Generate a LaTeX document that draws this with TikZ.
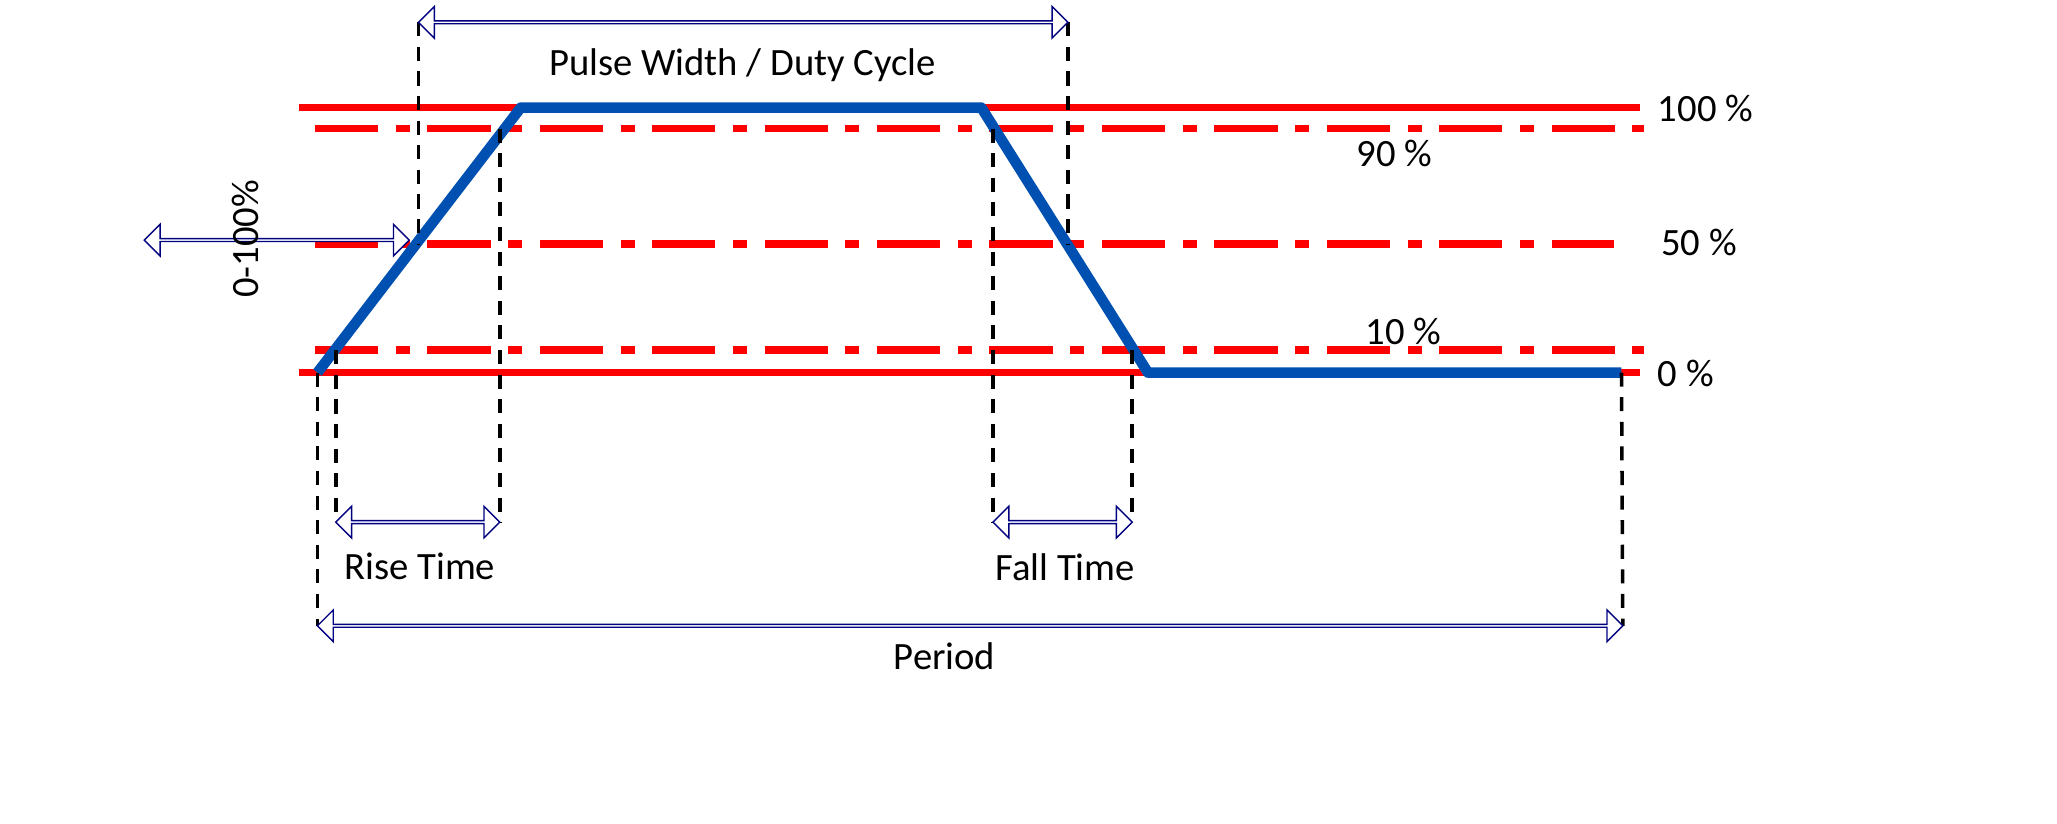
\documentclass[tikz,border=0pt]{standalone}
\usepackage{fontspec}
\setmainfont{Carlito}
\usetikzlibrary{calc}
\usetikzlibrary{shapes.arrows}
\tikzset{
level/.style={red,line width=2.2pt},
pct/.style={red,line width=2.2pt,dash pattern=on 18pt off 5pt on 4pt off 5pt},
guide/.style={black,line width=1pt,dash pattern=on 4pt off 3pt},
wave/.style={draw=blue!55!cyan!70!black,line width=3pt,line join=round},
span/.style={double arrow,draw=blue!50!black,fill=white,thin,inner sep=0pt,
  minimum width=9pt,double arrow head extend=2pt,double arrow head indent=0pt},
lbl/.style={font=\fontsize{11}{13}\selectfont}
}
\newcommand\spanarrow[2]{%
  \path let \p1=($(#2)-(#1)$), \n1={veclen(\x1,\y1)}, \n2={atan2(\y1,\x1)} in
    node[span,minimum height=\n1,shape border rotate=\n2] at ($(#1)!0.5!(#2)$) {};}
\begin{document}
\begin{tikzpicture}[x=0.01312cm,y=-0.01312cm]
\useasboundingbox (0,0) rectangle (1568,628);
% levels
\coordinate (top l) at (228,82);   \coordinate (top r) at (1250,82);
\coordinate (bot l) at (228,284);  \coordinate (bot r) at (1250,284);
\coordinate (n90 l) at (240,98);   \coordinate (n90 r) at (1253,98);
\coordinate (n50 l) at (240,186);  \coordinate (n50 r) at (1230,186);
\coordinate (n10 l) at (240,267);  \coordinate (n10 r) at (1253,267);
\draw[level] (top l) -- (top r);
\draw[level] (bot l) -- (bot r);
\draw[pct] (n90 l) -- (n90 r);
\draw[pct] (n50 l) -- (n50 r);
\draw[pct] (n10 l) -- (n10 r);
% waveform
\coordinate (w0) at (242,284);
\coordinate (w1) at (397,82);
\coordinate (w2) at (748,82);
\coordinate (w3) at (875,284);
\coordinate (w4) at (1236,284);
\draw[wave] (w0) -- (w1) -- (w2) -- (w3) -- (w4);
% guides
\coordinate (pw a) at (319,17);  \coordinate (pw b) at (814,17);
\coordinate (pw c) at (319,186); \coordinate (pw d) at (814,186);
\coordinate (rt a) at (256,398); \coordinate (rt b) at (381,398);
\coordinate (rt c) at (256,267); \coordinate (rt d) at (381,98);
\coordinate (ft a) at (757,398); \coordinate (ft b) at (863,398);
\coordinate (ft c) at (757,98);  \coordinate (ft d) at (863,267);
\coordinate (pd a) at (242,477); \coordinate (pd b) at (1237,477);
\draw[guide] (pw a) -- (pw c);
\draw[guide] (pw b) -- (pw d);
\draw[guide] (rt c) -- (rt a);
\draw[guide] (rt d) -- (rt b);
\draw[guide] (ft c) -- (ft a);
\draw[guide] (ft d) -- (ft b);
\draw[guide] (w0) -- (pd a);
\draw[guide] (w4) -- (pd b);
% spans
\coordinate (amp a) at (211,82); \coordinate (amp b) at (211,284);
\spanarrow{pw a}{pw b}
\spanarrow{rt a}{rt b}
\spanarrow{ft a}{ft b}
\spanarrow{pd a}{pd b}
\spanarrow{amp a}{amp b}
% labels
\node[lbl] (pw) at (566,50) {Pulse Width / Duty Cycle};
\node[lbl] (p100) at (1300,83) {100 \%};
\node[lbl] (p90) at (1063,117) {90 \%};
\node[lbl] (p50) at (1295,185) {50 \%};
\node[lbl] (p10) at (1070,253) {10 \%};
\node[lbl] (p0) at (1285,285) {0 \%};
\node[lbl] (rise) at (320,432) {Rise Time};
\node[lbl] (fall) at (812,432) {Fall Time};
\node[lbl] (period) at (720,500) {Period};
\node[lbl,rotate=90] (amp) at (187,182) {0-100\%};
\end{tikzpicture}
\end{document}
